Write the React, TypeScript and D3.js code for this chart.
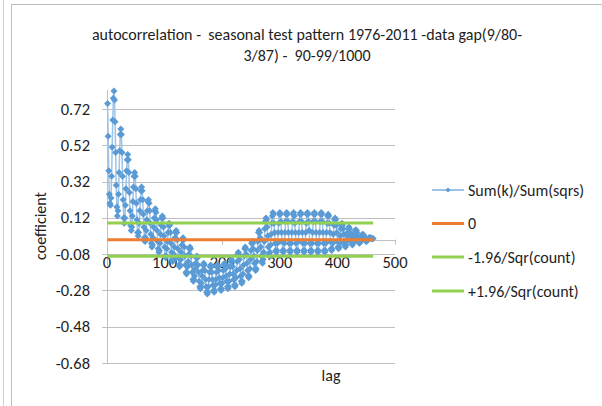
import React from 'react';
import * as d3 from 'd3';

const TITLE_LINES = [
  'autocorrelation -  seasonal test pattern 1976-2011 -data gap(9/80-',
  '3/87) -  90-99/1000',
];
const Y_TICKS = [0.72, 0.52, 0.32, 0.12, -0.08, -0.28, -0.48, -0.68];
const X_TICKS = [0, 100, 200, 300, 400, 500];
const SERIES_NAMES = ['Sum(k)/Sum(sqrs)', '0', '-1.96/Sqr(count)', '+1.96/Sqr(count)'];
const Y_TITLE = 'coefficient';
const X_TITLE = 'lag';

const FIRST_LAG = 1;
// autocorrelation per lag (rows = 12-lag seasonal cycles)
const ACF = [
  0.75, 0.57, 0.38, 0.25, 0.20, 0.19, 0.23, 0.35, 0.51, 0.66, 0.78,
  0.82, 0.77, 0.65, 0.48, 0.30, 0.18, 0.13, 0.16, 0.25, 0.37, 0.49, 0.58,
  0.61, 0.58, 0.48, 0.35, 0.22, 0.12, 0.09, 0.12, 0.19, 0.28, 0.38, 0.44,
  0.47, 0.44, 0.37, 0.26, 0.16, 0.08, 0.05, 0.07, 0.13, 0.21, 0.29, 0.35,
  0.37, 0.35, 0.28, 0.20, 0.11, 0.04, 0.02, 0.04, 0.09, 0.16, 0.22, 0.27,
  0.29, 0.27, 0.22, 0.14, 0.07, 0.01, -0.01, 0.01, 0.05, 0.11, 0.16, 0.21,
  0.22, 0.20, 0.16, 0.09, 0.03, -0.02, -0.04, -0.03, 0.01, 0.07, 0.12, 0.16,
  0.17, 0.15, 0.11, 0.05, -0.01, -0.05, -0.07, -0.06, -0.02, 0.03, 0.08, 0.12,
  0.13, 0.12, 0.07, 0.02, -0.04, -0.09, -0.10, -0.09, -0.05, -0.01, 0.04, 0.08,
  0.09, 0.08, 0.04, -0.02, -0.07, -0.11, -0.12, -0.11, -0.08, -0.04, 0.01, 0.04,
  0.05, 0.04, 0.00, -0.05, -0.10, -0.14, -0.15, -0.14, -0.11, -0.07, -0.03, 0.00,
  0.01, 0.00, -0.04, -0.09, -0.14, -0.18, -0.19, -0.18, -0.15, -0.12, -0.08, -0.05,
  -0.04, -0.05, -0.09, -0.14, -0.18, -0.22, -0.23, -0.22, -0.20, -0.16, -0.13, -0.10,
  -0.09, -0.10, -0.14, -0.18, -0.23, -0.26, -0.27, -0.26, -0.24, -0.20, -0.17, -0.14,
  -0.13, -0.14, -0.17, -0.22, -0.26, -0.29, -0.30, -0.29, -0.26, -0.22, -0.18, -0.15,
  -0.14, -0.15, -0.18, -0.22, -0.25, -0.28, -0.29, -0.28, -0.25, -0.22, -0.18, -0.15,
  -0.14, -0.15, -0.17, -0.21, -0.24, -0.27, -0.28, -0.27, -0.24, -0.21, -0.17, -0.14,
  -0.13, -0.14, -0.16, -0.20, -0.23, -0.26, -0.27, -0.26, -0.23, -0.19, -0.15, -0.12,
  -0.11, -0.12, -0.15, -0.19, -0.22, -0.25, -0.26, -0.25, -0.21, -0.17, -0.12, -0.08,
  -0.07, -0.08, -0.11, -0.16, -0.20, -0.23, -0.24, -0.23, -0.19, -0.14, -0.09, -0.05,
  -0.04, -0.05, -0.08, -0.13, -0.17, -0.20, -0.21, -0.20, -0.16, -0.11, -0.06, -0.02,
  -0.01, -0.02, -0.05, -0.09, -0.13, -0.16, -0.17, -0.16, -0.12, -0.06, -0.01, 0.04,
  0.05, 0.04, 0.01, -0.04, -0.09, -0.12, -0.13, -0.11, -0.07, -0.01, 0.06, 0.10,
  0.12, 0.11, 0.07, 0.02, -0.04, -0.08, -0.09, -0.07, -0.03, 0.03, 0.09, 0.13,
  0.15, 0.14, 0.09, 0.04, -0.02, -0.06, -0.07, -0.06, -0.02, 0.04, 0.09, 0.14,
  0.15, 0.14, 0.10, 0.04, -0.01, -0.06, -0.07, -0.06, -0.02, 0.04, 0.10, 0.14,
  0.15, 0.14, 0.10, 0.04, -0.02, -0.06, -0.07, -0.06, -0.02, 0.04, 0.10, 0.14,
  0.15, 0.13, 0.09, 0.04, -0.02, -0.06, -0.07, -0.06, -0.01, 0.04, 0.10, 0.14,
  0.15, 0.14, 0.10, 0.04, -0.02, -0.06, -0.07, -0.06, -0.02, 0.04, 0.09, 0.14,
  0.15, 0.14, 0.10, 0.05, -0.02, -0.06, -0.07, -0.06, -0.02, 0.04, 0.10, 0.14,
  0.15, 0.14, 0.10, 0.04, -0.02, -0.06, -0.07, -0.06, -0.02, 0.04, 0.10, 0.14,
  0.15, 0.14, 0.10, 0.04, -0.02, -0.06, -0.07, -0.06, -0.02, 0.04, 0.09, 0.13,
  0.14, 0.13, 0.09, 0.04, -0.01, -0.05, -0.06, -0.05, -0.02, 0.03, 0.08, 0.11,
  0.12, 0.11, 0.08, 0.04, -0.01, -0.04, -0.05, -0.04, -0.02, 0.02, 0.06, 0.08,
  0.09, 0.08, 0.06, 0.03, -0.01, -0.03, -0.04, -0.03, -0.01, 0.02, 0.04, 0.06,
  0.07, 0.06, 0.04, 0.02, 0.00, -0.02, -0.03, -0.02, -0.01, 0.01, 0.03, 0.05,
  0.055, 0.05, 0.04, 0.02, 0.00, -0.015, -0.02, -0.017, -0.008, 0.005, 0.018, 0.027,
  0.03, 0.027, 0.02, 0.01, 0.00, -0.007, -0.01, -0.009, -0.005, 0.001, 0.007, 0.01,
  0.012, 0.011, 0.009, 0.007, 0.006, 0.005, 0.006,
];
const ZERO_LEVEL = 0;
const LOWER_LIMIT = -0.092;
const UPPER_LIMIT = 0.092;

const FONT = "Carlito, Calibri, Lato, 'Liberation Sans', sans-serif";
const TEXT = '#1e1e1e';
const BLUE = '#5b9bd5';
const BLUE_LINE = '#9dc3e6';
const ORANGE = '#ed7d31';
const GREEN = '#92d050';
const GRID = '#bfbfbf';

const diamond = (cx: number, cy: number, r: number) =>
  `M${cx},${cy - r}L${cx + r},${cy}L${cx},${cy + r}L${cx - r},${cy}Z`;

export default function App() {
  const x = d3.scaleLinear().domain([0, 500]).range([107, 395]);
  const y = d3.scaleLinear().domain([-0.68, 0.825]).range([363, 90]);

  const pts = ACF.map((v, i) => ({ lag: FIRST_LAG + i, v }));
  const line = d3
    .line<{ lag: number; v: number }>()
    .x((d) => x(d.lag))
    .y((d) => y(d.v));
  const firstLag = pts[0].lag;
  const lastLag = pts[pts.length - 1].lag;
  const hLine = (level: number) =>
    line([
      { lag: firstLag, v: level },
      { lag: lastLag, v: level },
    ]) as string;

  const legendY = [190, 223.5, 257, 291];
  const legendColors = [BLUE_LINE, ORANGE, GREEN, GREEN];

  return (
    <svg
      width={602}
      height={406}
      style={{ position: 'absolute', left: 0, top: 0, background: '#fff' }}
      fontFamily={FONT}
    >
      <rect x={0} y={0} width={602} height={406} fill="#fff" />
      {/* outer frames */}
      <line x1={3.5} y1={0} x2={3.5} y2={406} stroke="#d0d0d0" />
      <line x1={11.5} y1={4.5} x2={11.5} y2={406} stroke="#bdbdbd" />
      <line x1={11.5} y1={4.5} x2={602} y2={4.5} stroke="#bdbdbd" />

      {/* title */}
      {TITLE_LINES.map((t, i) => (
        <text
          key={i}
          x={307}
          y={40 + i * 21}
          textAnchor="middle"
          fontSize={16}
          fill={TEXT}
          style={{ whiteSpace: 'pre' }}
        >
          {t}
        </text>
      ))}

      {/* gridlines */}
      {Y_TICKS.map((t) => (
        <line
          key={t}
          x1={x(0)}
          x2={x(500)}
          y1={Math.round(y(t)) + 0.5}
          y2={Math.round(y(t)) + 0.5}
          stroke={GRID}
        />
      ))}
      {/* y axis */}
      <line x1={x(0) + 0.5} x2={x(0) + 0.5} y1={y(0.825)} y2={y(-0.68)} stroke={GRID} />
      {Y_TICKS.map((t) => (
        <g key={'yt' + t}>
          <line
            x1={x(0) - 5}
            x2={x(0)}
            y1={Math.round(y(t)) + 0.5}
            y2={Math.round(y(t)) + 0.5}
            stroke={GRID}
          />
          <text x={90} y={y(t) + 5.5} textAnchor="end" fontSize={16.5} fill={TEXT}>
            {t.toFixed(2)}
          </text>
        </g>
      ))}
      {/* x axis */}
      <line x1={x(0)} x2={x(500)} y1={Math.round(y(0)) + 0.5} y2={Math.round(y(0)) + 0.5} stroke={GRID} />
      {X_TICKS.map((t) => (
        <g key={'xt' + t}>
          <line
            x1={Math.round(x(t)) + 0.5}
            x2={Math.round(x(t)) + 0.5}
            y1={y(0)}
            y2={y(0) + 5}
            stroke={GRID}
          />
          <text x={x(t)} y={268} textAnchor="middle" fontSize={16.5} fill={TEXT}>
            {t}
          </text>
        </g>
      ))}

      {/* axis titles */}
      <text
        transform={`translate(46,226) rotate(-90)`}
        textAnchor="middle"
        fontSize={16}
        fill={TEXT}
      >
        {Y_TITLE}
      </text>
      <text x={331} y={381} textAnchor="middle" fontSize={16}  fill={TEXT}>
        {X_TITLE}
      </text>

      {/* main series */}
      <path d={line(pts) as string} fill="none" stroke={BLUE_LINE} strokeWidth={1.5} />
      {pts.map((p) => (
        <path key={p.lag} d={diamond(x(p.lag), y(p.v), 3.5)} fill={BLUE} />
      ))}

      {/* reference lines */}
      <path d={hLine(ZERO_LEVEL)} stroke={ORANGE} strokeWidth={3} fill="none" />
      <path d={hLine(LOWER_LIMIT)} stroke={GREEN} strokeWidth={3} fill="none" />
      <path d={hLine(UPPER_LIMIT)} stroke={GREEN} strokeWidth={3} fill="none" />

      {/* legend */}
      {SERIES_NAMES.map((n, i) => (
        <g key={n}>
          <line
            x1={432}
            x2={464}
            y1={legendY[i]}
            y2={legendY[i]}
            stroke={legendColors[i]}
            strokeWidth={i === 0 ? 2 : 3}
          />
          {i === 0 && <path d={diamond(448, legendY[i], 2.5)} fill={BLUE} />}
          <text x={468} y={legendY[i] + 5.5} fontSize={16} fill={TEXT}>
            {n}
          </text>
        </g>
      ))}
    </svg>
  );
}
